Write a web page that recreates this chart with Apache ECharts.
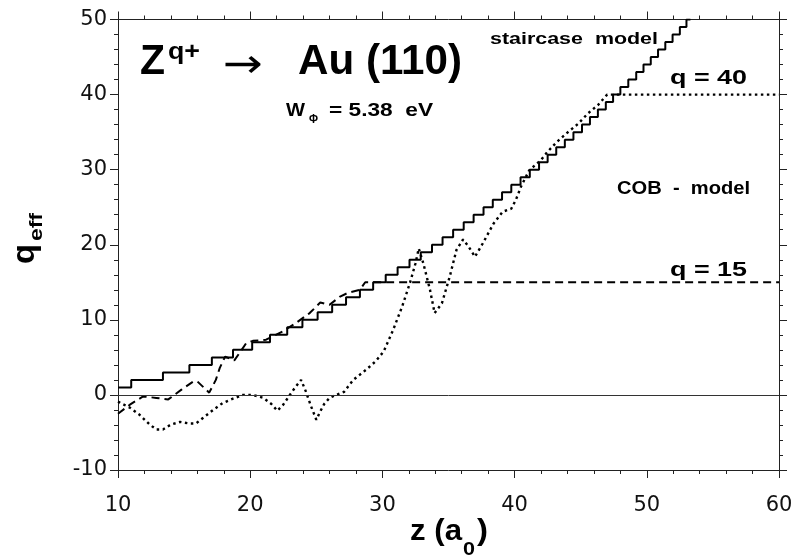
<!DOCTYPE html>
<html>
<head>
<meta charset="utf-8">
<script src="https://cdn.jsdelivr.net/npm/echarts@6/dist/echarts.min.js"></script>
<style>
html,body{margin:0;padding:0;background:#fff;}
#chart{width:796px;height:558px;}
</style>
</head>
<body>
<div id="chart"></div>
<script>
// tick values
const xTicks = [10, 20, 30, 40, 50, 60];
const yTicks = [-10, 0, 10, 20, 30, 40, 50];

// staircase model: z where level q begins
const stairZ = [10, 11.0, 13.4, 15.4, 17.1, 18.7, 20.15, 21.5, 22.8, 23.95, 25.1, 26.2, 27.25, 28.3, 29.3, 30.25, 31.15, 32.05, 32.9, 33.75, 34.55, 35.35, 36.15, 36.9, 37.65, 38.35, 39.05, 39.75, 40.45, 41.15, 41.85, 42.5, 43.15, 43.8, 44.45, 45.1, 45.7, 46.3, 46.9, 47.45, 48.0, 48.6, 49.2, 49.75, 50.3, 50.85, 51.4, 51.95, 52.5, 53.0];
const stairQ = [1, 2, 3, 4, 5, 6, 7, 8, 9, 10, 11, 12, 13, 14, 15, 16, 17, 18, 19, 20, 21, 22, 23, 24, 25, 26, 27, 28, 29, 30, 31, 32, 33, 34, 35, 36, 37, 38, 39, 40, 41, 42, 43, 44, 45, 46, 47, 48, 49, 50];

// COB model, q = 15 (dashed)
const q15Z = [10, 10.9, 11.3, 11.9, 12.9, 13.8, 14.8, 15.7, 16.0, 16.9, 17.4, 17.7, 18.1, 18.8, 19.2, 19.7, 20.2, 21.2, 22.5, 23.4, 24.5, 25.3, 26.0, 26.8, 27.4, 28.3, 28.7, 60];
const q15Q = [-2.5, -1.3, -0.85, -0.2, -0.4, -0.6, 0.7, 1.8, 1.8, 0.3, 2.0, 3.6, 5.1, 4.6, 5.6, 6.9, 7.2, 7.35, 8.5, 9.5, 10.9, 12.3, 12.0, 13.1, 13.6, 14.0, 15, 15];

// COB model, q = 40 (dotted)
const q40Z = [10, 10.9, 11.6, 12.4, 12.9, 13.4, 14.0, 14.7, 15.4, 15.9, 16.4, 17.2, 17.9, 18.7, 19.45, 20.2, 21.0, 21.6, 22.05, 22.5, 23.0, 23.4, 23.85, 24.2, 24.6, 25.0, 25.3, 25.6, 26.0, 26.5, 27.1, 27.8, 28.8, 29.5, 30.1, 30.8, 31.5, 32.1, 32.5, 32.75, 33.1, 33.6, 33.95, 34.5, 35.1, 35.6, 36.1, 36.5, 37.0, 37.6, 38.4, 39.1, 39.75, 40.1, 40.5, 41.1, 42.0, 42.5, 43.2, 43.9, 44.8, 45.55, 46.3, 47.0, 60];
const q40Q = [-0.9, -1.7, -2.6, -3.95, -4.6, -4.6, -3.95, -3.6, -3.8, -3.8, -3.1, -2.0, -1.1, -0.5, 0.0, 0.0, -0.4, -1.2, -2.1, -1.3, 0.0, 1.0, 2.0, 0.5, -1.5, -3.3, -2.2, -1.2, -0.4, 0.0, 0.4, 2.0, 3.4, 4.5, 5.8, 8.6, 11.8, 15.0, 17.5, 19.5, 17.5, 14.0, 10.9, 12.2, 15.8, 19.3, 20.7, 19.8, 18.4, 20.2, 22.8, 24.4, 24.8, 26.0, 27.8, 29.9, 31.3, 32.4, 33.7, 34.8, 36.1, 37.5, 38.6, 40.0, 40.0];

const zip = (a, b) => a.map((v, i) => [v, b[i]]);
const stairData = zip(stairZ, stairQ);
stairData.push([53.3, 50]);

const FONT = '"Liberation Sans", Arial, Helvetica, sans-serif';
const TICKFONT = '"DejaVu Sans", sans-serif';

// text helper: place text with its baseline at `base`, stretched to `width`
const mctx = document.createElement('canvas').getContext('2d');
function lbl(text, x, base, fs, width, opt) {
  opt = opt || {};
  const font = (opt.weight || 'bold') + ' ' + fs + 'px ' + (opt.family || FONT);
  mctx.font = font;
  const w = mctx.measureText(text).width;
  const el = {
    type: 'text', x: x, y: base + 0.15 * fs, silent: true,
    scaleX: width ? width / w : 1,
    style: { text: text, font: font, fill: '#000', textVerticalAlign: 'bottom' }
  };
  if (opt.rotate) {
    // rotated text: `x` is baseline position, `base` is start y
    el.x = x + 0.15 * fs; el.y = base; el.rotation = Math.PI / 2;
  }
  return el;
}

const axisCommon = {
  type: 'value',
  min: xTicks[0], max: xTicks[xTicks.length - 1], interval: 10,
  axisLine: { show: true, onZero: false, lineStyle: { color: '#222', width: 1 } },
  axisTick: { show: true, length: 8, lineStyle: { color: '#222', width: 1 } },
  minorTick: { show: true, splitNumber: 5, length: 4, lineStyle: { color: '#222', width: 1 } },
  splitLine: { show: false },
  minorSplitLine: { show: false }
};
const yCommon = Object.assign({}, axisCommon, { min: yTicks[0], max: yTicks[yTicks.length - 1] });

const chart = echarts.init(document.getElementById('chart'), null, { renderer: 'canvas' });
chart.setOption({
  animation: false,
  backgroundColor: '#fff',
  grid: { left: 118, right: 17, top: 19.5, bottom: 88, containLabel: false },
  xAxis: [
    Object.assign({}, axisCommon, {
      position: 'bottom',
      axisLabel: { fontSize: 21, color: '#111', fontFamily: TICKFONT, margin: 25 }
    }),
    Object.assign({}, axisCommon, { position: 'top', axisLabel: { show: false } })
  ],
  yAxis: [
    Object.assign({}, yCommon, {
      position: 'left',
      axisLabel: { fontSize: 21, color: '#111', fontFamily: TICKFONT, margin: 11 }
    }),
    Object.assign({}, yCommon, { position: 'right', axisLabel: { show: false } })
  ],
  series: [
    {
      name: 'staircase model', type: 'line', step: 'end', data: stairData,
      showSymbol: false, clip: true,
      lineStyle: { color: '#000', width: 2 },
      markLine: {
        silent: true, symbol: 'none', label: { show: false },
        lineStyle: { color: '#333', width: 1, type: 'solid' },
        data: [{ yAxis: 0 }]
      }
    },
    {
      name: 'q = 15', type: 'line', data: zip(q15Z, q15Q), showSymbol: false,
      lineStyle: { color: '#000', width: 2, type: [8, 5] }
    },
    {
      name: 'q = 40', type: 'line', data: zip(q40Z, q40Q), showSymbol: false,
      lineStyle: { color: '#000', width: 2.4, type: [2.5, 3.5] }
    }
  ],
  graphic: [
    lbl('Z', 140, 77, 42, 25),
    lbl('q+', 168, 61, 23, 32),
    {
      type: 'text', x: 223, y: 67, silent: true, scaleX: 40 / 33.5,
      style: { text: '\u2192', font: 'normal 40px "DejaVu Sans", sans-serif', fill: '#000', textVerticalAlign: 'middle' }
    },
    lbl('Au (110)', 298, 77, 42, 164),
    lbl('W', 286, 117, 18, 19),
    lbl('\u03A6', 309, 124, 12, 9),
    lbl('= 5.38  eV', 329, 117, 18, 104),
    lbl('staircase  model', 490, 45, 17, 168),
    lbl('q = 40', 670, 85, 20, 77),
    lbl('COB  -  model', 617, 195, 18, 133),
    lbl('q = 15', 670, 277, 20, 77),
    lbl('z (a', 410, 542, 29, 52),
    lbl('0', 463, 556, 19, 12),
    lbl(')', 477, 542, 29, 11),
    lbl('q', 36, 264, 32, 20, { rotate: true }),
    lbl('eff', 43, 241, 19, 28, { rotate: true })
  ]
});
</script>
</body>
</html>
